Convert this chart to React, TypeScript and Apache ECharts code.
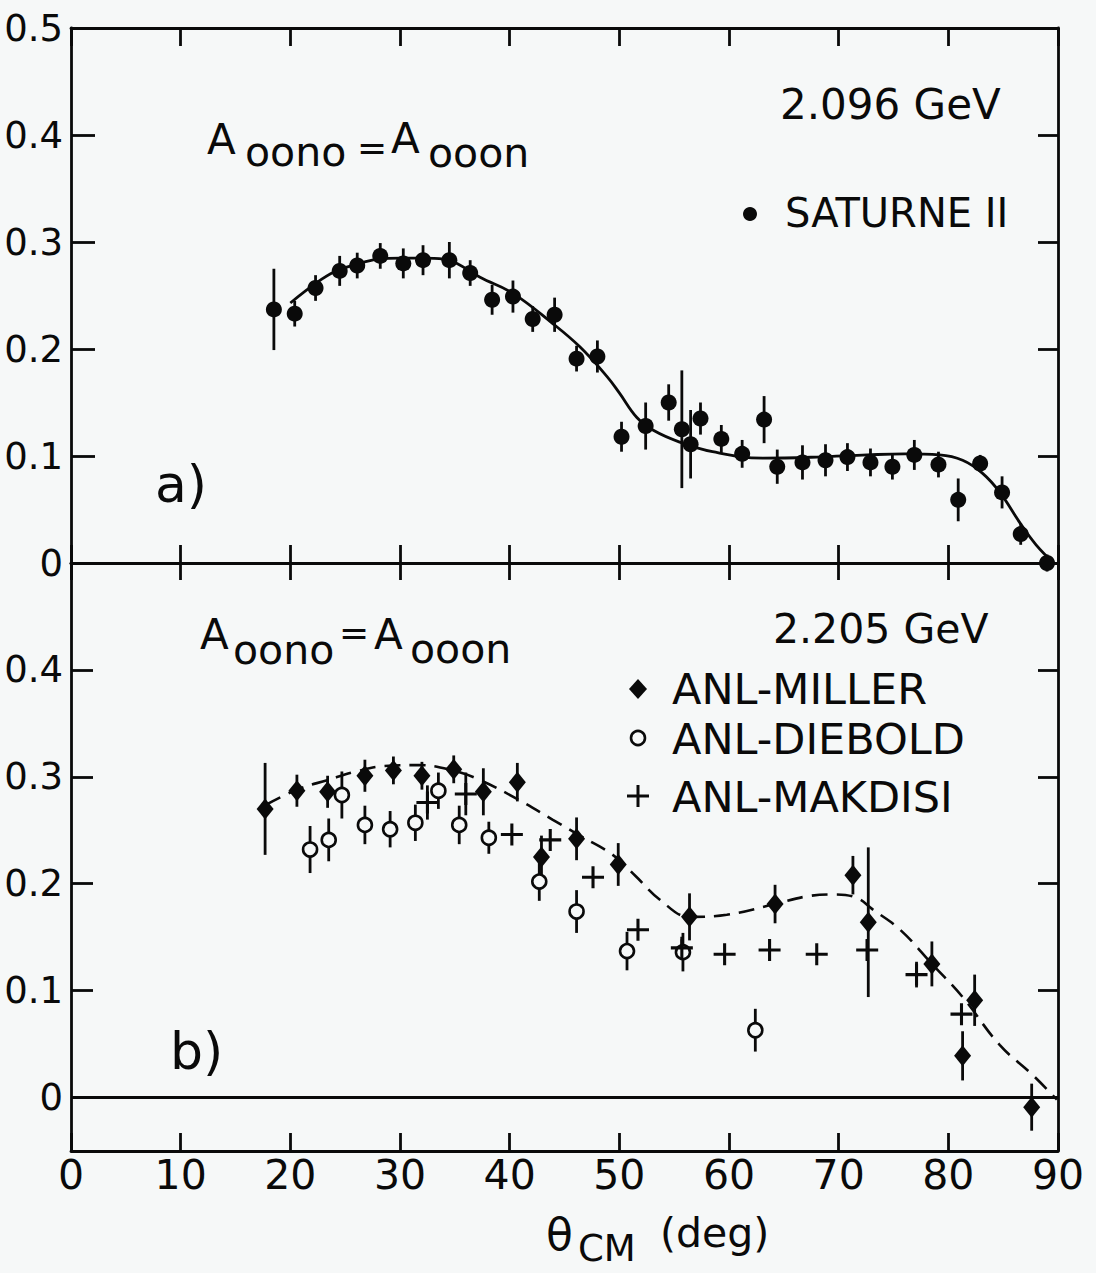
import React, { useEffect, useRef } from 'react';
import * as echarts from 'echarts';

const FONT = '"DejaVu Sans", "Liberation Sans", sans-serif';
const BG = '#f6f8f8';
const INK = '#0a0a0a';

// ---------- Panel a) 2.096 GeV, SATURNE II ----------
const saturneX = [18.5, 20.4, 22.3, 24.5, 26.1, 28.2, 30.3, 32.1, 34.5, 36.4, 38.4, 40.3, 42.1, 44.1, 46.1, 48.0, 50.2, 52.4, 54.5, 55.7, 56.5, 57.4, 59.3, 61.2, 63.2, 64.4, 66.7, 68.8, 70.8, 72.9, 74.9, 76.9, 79.1, 80.9, 82.9, 84.9, 86.6, 89.0];
const saturneY = [0.237, 0.233, 0.257, 0.273, 0.278, 0.287, 0.280, 0.283, 0.283, 0.271, 0.246, 0.249, 0.228, 0.232, 0.191, 0.193, 0.118, 0.128, 0.150, 0.125, 0.111, 0.135, 0.116, 0.102, 0.134, 0.090, 0.094, 0.096, 0.099, 0.094, 0.090, 0.101, 0.092, 0.059, 0.093, 0.066, 0.027, 0.0];
const saturneErr = [0.038, 0.012, 0.012, 0.014, 0.012, 0.012, 0.014, 0.014, 0.017, 0.012, 0.014, 0.015, 0.012, 0.016, 0.012, 0.015, 0.014, 0.022, 0.017, 0.055, 0.032, 0.015, 0.013, 0.013, 0.022, 0.016, 0.016, 0.015, 0.013, 0.013, 0.012, 0.014, 0.012, 0.02, 0.008, 0.015, 0.01, 0.008];

const fitAX = [20, 22.4, 24, 26, 28, 30, 32, 34, 35.2, 37.3, 40.3, 43.9, 46.4, 48.9, 50, 51.6, 53.1, 55.5, 58.5, 63.1, 68, 72.6, 76, 79.2, 81.3, 83.1, 84.7, 86.5, 88, 89.6];
const fitAY = [0.243, 0.262, 0.272, 0.279, 0.284, 0.285, 0.285, 0.284, 0.280, 0.267, 0.252, 0.224, 0.202, 0.174, 0.159, 0.136, 0.124, 0.113, 0.104, 0.098, 0.099, 0.101, 0.102, 0.101, 0.096, 0.084, 0.066, 0.038, 0.017, 0.0];

// ---------- Panel b) 2.205 GeV ----------
const millerX = [17.7, 20.6, 23.4, 26.8, 29.4, 32.0, 34.9, 37.6, 40.7, 42.9, 46.1, 49.9, 56.4, 64.2, 71.3, 72.7, 78.5, 81.3, 82.4, 87.6];
const millerY = [0.270, 0.287, 0.286, 0.301, 0.306, 0.301, 0.307, 0.286, 0.295, 0.225, 0.242, 0.218, 0.169, 0.181, 0.208, 0.164, 0.125, 0.039, 0.091, -0.009];
const millerErr = [0.043, 0.015, 0.015, 0.015, 0.013, 0.013, 0.013, 0.022, 0.018, 0.02, 0.02, 0.02, 0.022, 0.018, 0.018, 0.07, 0.021, 0.023, 0.024, 0.022];

const dieboldX = [21.8, 23.5, 24.7, 26.8, 29.1, 31.4, 33.5, 35.4, 38.1, 42.7, 46.1, 50.7, 55.8, 62.4];
const dieboldY = [0.232, 0.241, 0.283, 0.255, 0.251, 0.257, 0.287, 0.255, 0.243, 0.202, 0.174, 0.137, 0.136, 0.063];
const dieboldErr = [0.022, 0.02, 0.022, 0.018, 0.017, 0.017, 0.017, 0.018, 0.015, 0.018, 0.02, 0.018, 0.018, 0.02];

const makdisiX = [32.5, 36.0, 40.2, 43.7, 47.6, 51.7, 55.7, 59.6, 63.7, 68.0, 72.6, 77.1, 81.2];
const makdisiY = [0.276, 0.284, 0.246, 0.241, 0.206, 0.157, 0.140, 0.134, 0.138, 0.134, 0.138, 0.115, 0.078];
const makdisiErr = [0.016, 0.02, 0, 0, 0, 0, 0.008, 0, 0, 0, 0.01, 0.012, 0];

const fitBX = [17.8, 20.6, 23.4, 26, 28.5, 31.8, 34.8, 37.3, 40.9, 43.9, 46.4, 49.4, 51.5, 53.7, 56.4, 59.8, 64.2, 67, 69.5, 71.6, 73.1, 75.6, 78.6, 81.3, 84.7, 87.7, 89.9];
const fitBY = [0.274, 0.288, 0.297, 0.305, 0.310, 0.311, 0.306, 0.297, 0.278, 0.260, 0.245, 0.227, 0.207, 0.185, 0.169, 0.171, 0.181, 0.188, 0.190, 0.187, 0.176, 0.157, 0.124, 0.094, 0.049, 0.021, -0.002];

// ---------- Ticks ----------
const xTicks = [0, 10, 20, 30, 40, 50, 60, 70, 80, 90];
const yTicksInner = [0.1, 0.2, 0.3, 0.4];
const yLabelsA = [0, 0.1, 0.2, 0.3, 0.4, 0.5];
const yLabelsB = [0, 0.1, 0.2, 0.3, 0.4];

const PLUS = 'path://M8.6,0 L11.4,0 L11.4,8.6 L20,8.6 L20,11.4 L11.4,11.4 L11.4,20 L8.6,20 L8.6,11.4 L0,11.4 L0,8.6 L8.6,8.6 Z';

const zip = (xs: number[], ys: number[]) => xs.map((x, i) => [x, ys[i]]);
const zip3 = (xs: number[], ys: number[], es: number[]) => xs.map((x, i) => [x, ys[i], es[i]]);

const fmt = (v: number) => (Math.abs(v) < 1e-9 ? '0' : v.toFixed(1));

function errorSeries(data: number[][], xi: number, yi: number) {
  return {
    type: 'custom',
    xAxisIndex: xi,
    yAxisIndex: yi,
    data,
    encode: { x: 0, y: 1 },
    z: 2,
    silent: true,
    renderItem: (params: any, api: any) => {
      const x = api.value(0);
      const y = api.value(1);
      const e = api.value(2);
      if (!e) return { type: 'group', children: [] };
      const p1 = api.coord([x, y - e]);
      const p2 = api.coord([x, y + e]);
      return {
        type: 'line',
        shape: { x1: p1[0], y1: p1[1], x2: p2[0], y2: p2[1] },
        style: { stroke: INK, lineWidth: 2.8 },
      };
    },
  };
}

const lineStyleAxis = { color: INK, width: 2.8 };

function xAxisDef(grid: number, position: 'top' | 'bottom', tickLen: number, labels: boolean) {
  return {
    type: 'value',
    gridIndex: grid,
    position,
    min: 0,
    max: 90,
    interval: 10,
    axisLine: { show: true, onZero: false, lineStyle: lineStyleAxis },
    axisTick: { show: true, inside: true, length: tickLen, lineStyle: lineStyleAxis },
    axisLabel: labels
      ? { show: true, fontSize: 41, fontFamily: FONT, color: INK, margin: 3, customValues: xTicks }
      : { show: false },
    splitLine: { show: false },
  };
}

function yAxisDef(grid: number, position: 'left' | 'right', min: number, max: number, tickLen: number, labels: number[] | null) {
  return {
    type: 'value',
    gridIndex: grid,
    position,
    min,
    max,
    axisLine: { show: true, onZero: false, lineStyle: lineStyleAxis },
    axisTick: { show: true, inside: true, length: tickLen, lineStyle: lineStyleAxis, customValues: yTicksInner },
    axisLabel: labels
      ? { show: true, fontSize: 37, fontFamily: FONT, color: INK, margin: 8, customValues: labels, formatter: fmt }
      : { show: false },
    splitLine: { show: false },
  };
}

function txt(text: string, x: number, y: number, size: number) {
  return {
    type: 'text',
    x,
    y,
    z: 10,
    style: { text, fontSize: size, fontFamily: FONT, fill: INK, align: 'left', verticalAlign: 'middle' },
  };
}

export default function App() {
  const ref = useRef<HTMLDivElement>(null);
  useEffect(() => {
    document.body.style.margin = '0';
    document.body.style.background = BG;
    const chart = echarts.init(ref.current as HTMLDivElement, null, { renderer: 'svg' });
    const option: any = {
      animation: false,
      backgroundColor: BG,
      grid: [
        { left: 71, top: 28, width: 987, height: 535 },
        { left: 71, top: 563, width: 987, height: 588 },
      ],
      xAxis: [
        xAxisDef(0, 'bottom', 18, false),
        xAxisDef(0, 'top', 18, false),
        xAxisDef(1, 'bottom', 18, true),
        xAxisDef(1, 'top', 17, false),
      ],
      yAxis: [
        yAxisDef(0, 'left', 0, 0.5, 24, yLabelsA),
        yAxisDef(0, 'right', 0, 0.5, 20, null),
        yAxisDef(1, 'left', -0.05, 0.5, 22, yLabelsB),
        yAxisDef(1, 'right', -0.05, 0.5, 20, null),
      ],
      series: [
        {
          name: 'fit a',
          type: 'line',
          xAxisIndex: 0,
          yAxisIndex: 0,
          data: zip(fitAX, fitAY),
          showSymbol: false,
          smooth: 0.4,
          lineStyle: { color: INK, width: 2.8 },
          z: 1,
          silent: true,
        },
        errorSeries(zip3(saturneX, saturneY, saturneErr), 0, 0),
        {
          name: 'SATURNE II',
          type: 'scatter',
          xAxisIndex: 0,
          yAxisIndex: 0,
          data: zip(saturneX, saturneY),
          symbol: 'circle',
          symbolSize: 16,
          itemStyle: { color: INK, opacity: 1 },
          z: 3,
        },
        {
          name: 'fit b',
          type: 'line',
          xAxisIndex: 2,
          yAxisIndex: 2,
          data: zip(fitBX, fitBY),
          showSymbol: false,
          smooth: 0.4,
          lineStyle: { color: INK, width: 2.6, type: [16, 9] },
          z: 1,
          silent: true,
          markLine: {
            silent: true,
            symbol: 'none',
            label: { show: false },
            lineStyle: { type: 'solid', color: INK, width: 2.8 },
            data: [{ yAxis: 0 }],
          },
        },
        errorSeries(zip3(millerX, millerY, millerErr), 2, 2),
        errorSeries(zip3(dieboldX, dieboldY, dieboldErr), 2, 2),
        errorSeries(zip3(makdisiX, makdisiY, makdisiErr), 2, 2),
        {
          name: 'ANL-MILLER',
          type: 'scatter',
          xAxisIndex: 2,
          yAxisIndex: 2,
          data: zip(millerX, millerY),
          symbol: 'diamond',
          symbolSize: [17, 21],
          itemStyle: { color: INK, opacity: 1 },
          z: 3,
        },
        {
          name: 'ANL-DIEBOLD',
          type: 'scatter',
          xAxisIndex: 2,
          yAxisIndex: 2,
          data: zip(dieboldX, dieboldY),
          symbol: 'circle',
          symbolSize: 14,
          itemStyle: { color: BG, borderColor: INK, borderWidth: 2.6, opacity: 1 },
          z: 3,
        },
        {
          name: 'ANL-MAKDISI',
          type: 'scatter',
          xAxisIndex: 2,
          yAxisIndex: 2,
          data: zip(makdisiX, makdisiY),
          symbol: PLUS,
          symbolSize: 22,
          itemStyle: { color: INK, opacity: 1 },
          z: 3,
        },
      ],
      graphic: [
        // panel a annotations
        txt('A', 207, 139, 42),
        txt('oono', 245, 152, 41),
        txt('=', 357, 147, 36),
        txt('A', 391, 138, 42),
        txt('ooon', 428, 153, 41),
        txt('2.096 GeV', 780, 104, 42),
        { type: 'circle', z: 10, shape: { cx: 750, cy: 214, r: 7 }, style: { fill: INK } },
        txt('SATURNE II', 785, 213, 40),
        txt('a)', 155, 484, 52),
        // panel b annotations
        txt('A', 200, 634, 42),
        txt('oono', 233, 650, 41),
        txt('=', 339, 632, 36),
        txt('A', 374, 634, 42),
        txt('ooon', 410, 649, 41),
        txt('2.205 GeV', 773, 629, 41),
        {
          type: 'polygon',
          z: 10,
          shape: { points: [[638, 679], [647, 689], [638, 699], [629, 689]] },
          style: { fill: INK },
        },
        txt('ANL-MILLER', 672, 689, 43),
        { type: 'circle', z: 10, shape: { cx: 638, cy: 738, r: 7 }, style: { fill: BG, stroke: INK, lineWidth: 2.6 } },
        txt('ANL-DIEBOLD', 672, 739, 43),
        { type: 'line', z: 10, shape: { x1: 627, y1: 796, x2: 649, y2: 796 }, style: { stroke: INK, lineWidth: 3 } },
        { type: 'line', z: 10, shape: { x1: 638, y1: 785, x2: 638, y2: 807 }, style: { stroke: INK, lineWidth: 3 } },
        txt('ANL-MAKDISI', 672, 797, 43),
        txt('b)', 170, 1051, 52),
        // x-axis title
        txt('θ', 546, 1234, 44),
        txt('CM', 578, 1248, 37),
        txt('(deg)', 660, 1233, 41),
      ],
    };
    chart.setOption(option);
    return () => chart.dispose();
  }, []);
  return <div ref={ref} style={{ width: 1096, height: 1273, background: BG }} />;
}
